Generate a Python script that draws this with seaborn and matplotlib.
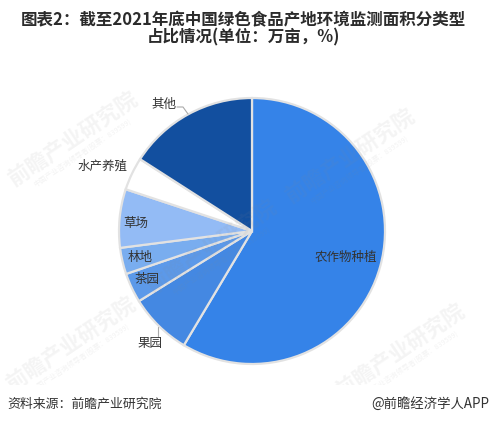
import matplotlib
matplotlib.use('Agg')
import matplotlib.pyplot as plt
from matplotlib.transforms import Bbox
import seaborn as sns

# Data
categories = ['农作物种植', '果园', '茶园', '林地', '草场', '水产养殖', '其他']
shares = [58.5, 7.6, 3.6, 3.2, 7.1, 4.0, 15.9]
slice_colors = ['#3583E8', '#4488E2', '#5C99E9', '#79ADEF', '#93BBF5', '#FFFFFF', '#124F9F']
title_lines = '图表2\uff1a截至2021年底中国绿色食品产地环境监测面积分类型\n占比情况(单位\uff1a万亩\uff0c%)'
source_text = '资料来源\uff1a前瞻产业研究院'
brand_text = '@前瞻经济学人APP'
watermark = '前瞻产业研究院'
watermark_small = '中国产业咨询领导者(股票\uff1a839599)'

W, H = 490, 425
CX, CY, R = 252, 231, 133

sns.set_theme(style='white')
plt.rcParams['font.family'] = ['Noto Sans CJK SC', 'DejaVu Sans']

fig = plt.figure(figsize=(W / 100, H / 100), dpi=100, facecolor='white')
ax = fig.add_axes([0, 0, 1, 1])
ax.axis('off')


def px(x, y):
    return (x - CX) / R, (CY - y) / R


wedges, _ = ax.pie(shares, colors=slice_colors, startangle=90, counterclock=False, radius=1,
                   wedgeprops={'edgecolor': '#E2E2E2', 'linewidth': 1.6})
ax.set_aspect('equal')
ax.set_xlim(-CX / R, (W - CX) / R)
ax.set_ylim(-(H - CY) / R, CY / R)

# faint watermarks, they also lie over the pie; the image is cut off at y=385
clip = Bbox([[0, H - 385], [W, H]])
for x, y in [(73, 140), (350, 157), (212, 248), (71, 345), (400, 352)]:
    wx, wy = px(x, y)
    big = ax.text(wx, wy, watermark, fontsize=15.5, color='#888888', alpha=0.09, rotation=34,
                  fontweight='bold', ha='center', va='center', rotation_mode='anchor', zorder=5)
    sx, sy = px(x + 9, y + 13)
    small = ax.text(sx, sy, watermark_small, fontsize=5.2, color='#888888', alpha=0.1, rotation=34,
                    ha='center', va='center', rotation_mode='anchor', zorder=5)
    for t in (big, small):
        t.set_clip_box(clip)
        t.set_clip_on(True)

# slice labels
label_px = [(346, 257), (150, 344), (147, 280), (140, 258), (136, 223), (103, 166), (164, 104)]
for name, (x, y) in zip(categories, label_px):
    lx, ly = px(x, y)
    ax.text(lx, ly, name, fontsize=9, color='#333333', ha='center', va='center', zorder=6)

# leader lines
for pts in [[(177, 107), (183, 107), (188, 114)], [(158, 327), (158, 337)]]:
    line = [px(*p) for p in pts]
    ax.plot([p[0] for p in line], [p[1] for p in line], color='#AAAAAA', lw=0.8, zorder=3)

fig.text(0.497, 1 - 29 / H, title_lines, fontsize=11.9, fontweight='bold', color='#2B2B2B',
         ha='center', va='center', linespacing=0.9)
fig.text(7 / W, 1 - 404 / H, source_text, fontsize=9.3, color='#333333', ha='left', va='center')
fig.text(489 / W, 1 - 404 / H, brand_text, fontsize=9.6, color='#333333', ha='right', va='center')

fig.savefig('out.png', dpi=100)
